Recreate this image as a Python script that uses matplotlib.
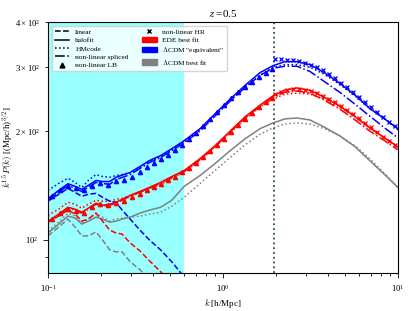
"""k^1.5 P(k) at z=0.5: EDE vs LCDM, linear / halofit / HMcode / simulations."""

import matplotlib

matplotlib.use("Agg")
import matplotlib.pyplot as plt
from matplotlib.lines import Line2D
from matplotlib.patches import Patch

plt.rcParams["font.family"] = ["Liberation Serif", "DejaVu Serif"]
plt.rcParams["mathtext.fontset"] = "cm"
plt.rcParams["axes.formatter.use_mathtext"] = True

# common k grid for the model curves [h/Mpc]
k = [0.1, 0.115, 0.13, 0.143, 0.156, 0.17, 0.188, 0.205, 0.225, 0.245, 0.265,
     0.295, 0.335, 0.38, 0.44, 0.51, 0.6, 0.74, 0.9, 1.1, 1.34, 1.63, 1.93,
     2.26, 2.65, 3.15, 3.8, 4.65, 5.7, 6.9, 8.4, 10.0]

# LCDM "equivalent" (blue)
blue_halofit = [130, 137, 143, 140.6, 138, 141.5, 146, 145, 145, 149, 151,
                153.6, 159.5, 165.7, 171, 178.7, 188, 203, 223, 245, 267.6, 290, 303,
                311, 311, 305, 290, 271, 251, 231, 216, 203]
blue_hmcode = [137, 143.3, 148, 144.2, 139.7, 146, 151.6, 149.7, 149, 150.7, 151.6,
               153.6, 158.5, 164.6, 170, 177.5, 186.8, 201.5, 221.5, 243.4, 264, 285, 300,
               305, 305, 300, 287, 269, 250, 231, 216, 201.5]
blue_spliced = [128.7, 135.3, 141.5, 138.8, 136.2, 139.7, 144.2, 143.3, 142.4, 146.9, 148.8,
                151.6, 157.5, 163.6, 169, 176.5, 185.6, 200, 220, 242, 264, 285, 298,
                302, 302, 292, 274, 256, 237, 220, 204, 191.5]
blue_linear = [128, 133.7, 138.8, 135.3, 132, 133.7, 134.5, 131.2, 128, 127, 121,
               114.2, 106.5, 100, 93.9, 87, 79]

# EDE best fit (red)
red_halofit = [112.7, 117.8, 123.1, 121.6, 119.3, 122.4, 126.3, 124.7, 125.5, 127.1, 129.5,
               132.8, 136.2, 139.7, 144.2, 149.7, 155.5, 167.8, 182, 200, 219, 235.8, 250,
               259.6, 263, 259, 248, 234.4, 219, 204, 191.5, 180.9]
red_hmcode = [117.1, 121.6, 127.1, 125.5, 122.4, 125.5, 128.7, 127.9, 127.9, 129.5, 130.3,
              132.8, 135.3, 138.8, 142.4, 147.9, 154.5, 165.7, 180.9, 197.6, 216, 233, 245,
              253, 254.4, 253, 245, 233, 219, 204, 191.5, 180.9]
red_spliced = [112, 117.1, 122.4, 120.9, 118.6, 121.6, 125.5, 123.9, 124.7, 126.3, 128.7,
               132, 135.3, 138.8, 143.3, 148.8, 154.5, 166.7, 180.9, 198.9, 217.3, 234.4, 248,
               256, 258, 254.4, 243.4, 230, 214.5, 200, 188, 177.5]
red_linear = [112, 116.4, 120.9, 117.8, 112.7, 114.2, 118.6, 112.7, 106.5, 104.5, 103.8,
              98.1, 93.3, 87.6, 81.7, 75.3]

# LCDM best fit (gray)
gray_halofit = [104.5, 110.6, 116.4, 114.9, 110.6, 112.7, 115.6, 114.2, 112, 112.7, 114.2,
                115.6, 118.6, 120.9, 123.1, 128.7, 140.6, 150.7, 162.5, 176.5, 190.4, 203, 210.5,
                216, 217.3, 214.5, 205, 194, 180.9, 165.7, 151.6, 139.7]
gray_hmcode = [105.8, 112, 118.6, 116.4, 111.3, 114.2, 118.6, 115.6, 112.7, 114.2, 114.9,
               115.6, 116.4, 117.8, 119.3, 123.9, 131.2, 143.3, 155.5, 169, 183.2, 196, 204,
               209.2, 210.5, 209.2, 203, 194, 182, 167.8, 152.6, 139.7]
gray_linear = [102.6, 108.5, 114.2, 108.5, 102.6, 102.6, 105.2, 100, 93.9, 92.7, 92.7,
               87, 82.8, 77.7]

# simulation points: low resolution (k < ~2) and high resolution (k > ~2)
k_lb = [0.105, 0.117, 0.13, 0.145, 0.16, 0.178, 0.198, 0.22, 0.245, 0.272, 0.302,
        0.335, 0.368, 0.403, 0.442, 0.485, 0.532, 0.583, 0.639, 0.70, 0.768, 0.842,
        0.924, 1.01, 1.11, 1.22, 1.34, 1.47, 1.61, 1.76, 1.9]
blue_lb = [132, 137, 140.6, 138.8, 137, 140.6, 143.3, 141.5, 145.1, 146.9, 148.8,
           154.5, 159.5, 163.6, 167.8, 172, 177.5, 183.2, 190.4, 197.6, 206.6, 216,
           225.6, 235.8, 246.5, 256, 264, 272.6, 281.3, 288.6, 296]
red_lb = [114.2, 118.6, 121.6, 120.1, 118.6, 123.1, 125.5, 124.7, 126.3, 127.9, 131.2,
          133.7, 137, 139.7, 142.4, 146, 149.7, 153.6, 158.5, 163.6, 169.9, 176.5,
          183.2, 190.4, 198.9, 207.9, 216, 224.3, 233, 240.3, 246.5]

k_hr = [1.98, 2.15, 2.32, 2.51, 2.72, 2.94, 3.18, 3.45, 3.73, 4.03, 4.37,
        4.72, 5.11, 5.53, 5.99, 6.48, 7.01, 7.59, 8.21, 8.88, 9.61]
blue_hr = [317, 317, 315, 315, 313, 309, 305, 299.8, 294, 287, 280,
           271, 264, 256, 248, 240, 232.9, 225.6, 219, 211.8, 206.6]
red_hr = [253, 256, 259.2, 261, 261, 259.2, 258, 254.4, 250, 245, 240.3,
          234.4, 228.5, 223, 217.3, 210.5, 205, 198.9, 192.8, 188, 182.4]

k_span = (0.1, 0.6)
k_split = 1.95

fig = plt.figure(figsize=(4.14, 3.11), dpi=100)
ax = fig.add_axes([0.116, 0.122, 0.845, 0.807])

ax.axvspan(*k_span, color="cyan", alpha=0.4, lw=0, zorder=0)
ax.axvline(k_split, color="darkslategray", ls=":", lw=1.3, zorder=1)

lw = 1.1
for color, lin, hf, hm in [
    ("gray", gray_linear, gray_halofit, gray_hmcode),
    ("red", red_linear, red_halofit, red_hmcode),
    ("blue", blue_linear, blue_halofit, blue_hmcode),
]:
    ax.plot(k[:len(lin)], lin, color=color, ls="--", lw=lw)
    ax.plot(k, hf, color=color, ls="-", lw=lw)
    ax.plot(k, hm, color=color, ls=":", lw=lw)

for color, spl, lb, hr in [
    ("red", red_spliced, red_lb, red_hr),
    ("blue", blue_spliced, blue_lb, blue_hr),
]:
    ax.plot(k, spl, color=color, ls="-.", lw=lw)
    ax.plot(k_lb, lb, color=color, ls="none", marker="^", ms=3)
    ax.plot(k_hr, hr, color=color, ls="none", marker="x", ms=3, mew=0.9)

ax.set_xscale("log")
ax.set_yscale("log")
ax.set_xlim(0.1, 10)
ax.set_ylim(81, 400)
ax.tick_params(which="both", labelsize=6.2, width=0.6)
for s in ax.spines.values():
    s.set_linewidth(0.8)

ax.set_xlabel(r"$k$ [h/Mpc]", fontsize=6.5, labelpad=2)
ax.set_ylabel(r"$k^{1.5}P(k)$ [(Mpc/h)$^{3/2}$]", fontsize=6.5, labelpad=0)
ax.set_title(r"$z$ =0.5", fontsize=8, pad=4)

handles = [
    Line2D([], [], color="k", ls="--", lw=lw),
    Line2D([], [], color="k", ls="-", lw=lw),
    Line2D([], [], color="k", ls=":", lw=lw),
    Line2D([], [], color="k", ls="-.", lw=lw),
    Line2D([], [], color="k", ls="none", marker="^", ms=3.5),
    Line2D([], [], color="k", ls="none", marker="x", ms=3.5, mew=1),
    Patch(color="red"),
    Patch(color="blue"),
    Patch(color="gray"),
]
labels = ["linear", "halofit", "HMcode", "non-linear spliced", "non-linear LB",
          "non-linear HR", "EDE best fit", r'$\Lambda$CDM "equivalent"', r"$\Lambda$CDM best fit"]
ax.legend(handles, labels, loc="upper left", ncol=2, fontsize=5.3, framealpha=0.8,
          handlelength=2, columnspacing=1.8, labelspacing=0.3, borderpad=0.4)

fig.savefig("out.png", dpi=100)
